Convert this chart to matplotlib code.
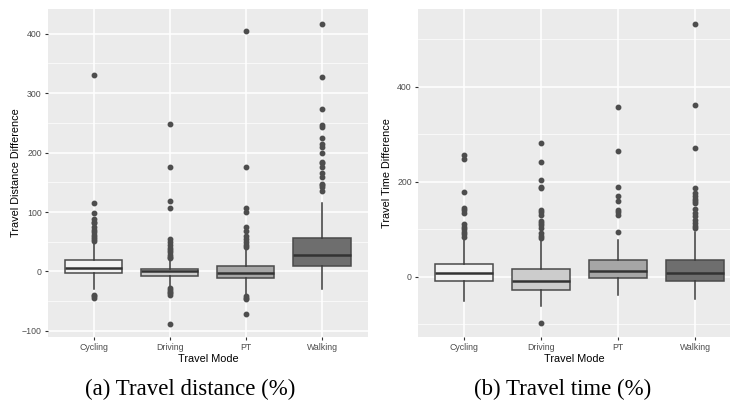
import numpy as np
import matplotlib.pyplot as plt
from matplotlib.ticker import MultipleLocator

plt.rcParams['font.family'] = ['Liberation Sans', 'DejaVu Sans']

modes = ['Cycling', 'Driving', 'PT', 'Walking']
fills = ['#f2f2f2', '#cccccc', '#a6a6a6', '#6e6e6e']

# travel distance difference (%): q1, median, q3, whisker low, whisker high
dist_q1 = [-3, -8, -11, 10]
dist_med = [6, 0.5, -2, 27]
dist_q3 = [19, 4.5, 9, 57]
dist_wlo = [-30, -26, -40, -30]
dist_whi = [50, 20, 40, 116]
dist_out = [
    [331, 115, 98, 88, 84, 81, 75, 70, 66, 62, 58, 55, 52, -40, -42, -44],
    [249, 176, 118, 106, 55, 50, 44, 40, 36, 32, 28, 24, 22, -28, -31, -34, -37, -40, -88],
    [404, 175, 106, 100, 75, 68, 60, 55, 50, 45, 42, -42, -44, -47, -71],
    [416, 327, 273, 247, 243, 224, 214, 210, 200, 185, 182, 176, 165, 159, 148, 145, 142, 135],
]

# travel time difference (%)
time_q1 = [-8, -27, -1.5, -8]
time_med = [8, -8, 13, 8]
time_q3 = [28, 17, 35, 35]
time_wlo = [-50, -62, -38, -47]
time_whi = [79, 79, 78, 94]
time_out = [
    [257, 248, 178, 145, 140, 135, 112, 105, 100, 95, 90, 85],
    [282, 241, 203, 189, 187, 141, 136, 131, 118, 113, 109, 102, 92, 87, 81, -97],
    [357, 265, 189, 171, 159, 141, 136, 131, 95],
    [532, 362, 272, 188, 177, 170, 164, 160, 155, 142, 135, 128, 120, 113, 108, 102],
]


def make_stats(q1, med, q3, wlo, whi, out):
    stats = []
    for i in range(len(modes)):
        stats.append({'q1': q1[i], 'med': med[i], 'q3': q3[i],
                      'whislo': wlo[i], 'whishi': whi[i], 'fliers': out[i], 'label': modes[i]})
    return stats


def draw_panel(ax, stats, ylabel, major, minor, ylim, xlim, label_x):
    ax.set_facecolor('#ebebeb')
    ax.set_axisbelow(True)
    ax.yaxis.set_major_locator(MultipleLocator(major))
    ax.yaxis.set_minor_locator(MultipleLocator(minor))
    ax.grid(which='major', color='white', linewidth=1.1)
    ax.grid(which='minor', axis='y', color='white', linewidth=0.5)
    res = ax.bxp(stats, positions=range(1, 5), widths=0.75, patch_artist=True, showcaps=False,
                 boxprops=dict(edgecolor='#4a4a4a', linewidth=1.1),
                 medianprops=dict(color='#333333', linewidth=1.8),
                 whiskerprops=dict(color='#3a3a3a', linewidth=1.1),
                 flierprops=dict(marker='o', markerfacecolor='#4d4d4d', markeredgecolor='#4d4d4d',
                                 markersize=3.2))
    for patch, c in zip(res['boxes'], fills):
        patch.set_facecolor(c)
    ax.set_xlim(*xlim)
    ax.set_ylim(*ylim)
    for s in ax.spines.values():
        s.set_visible(False)
    ax.tick_params(axis='both', which='major', length=2.5, color='#333333', labelcolor='#4d4d4d',
                   labelsize=6.3, pad=2)
    ax.tick_params(axis='y', which='minor', length=0)
    ax.set_xlabel('Travel Mode', fontsize=7.8, labelpad=1.5)
    ax.set_ylabel(ylabel, fontsize=7.8)
    ax.yaxis.set_label_coords(label_x, 0.5)


fig = plt.figure(figsize=(7.3, 4.2), dpi=100)
ax1 = fig.add_axes([0.0658, 0.198, 0.4378, 0.781])
ax2 = fig.add_axes([0.5726, 0.198, 0.4274, 0.781])

draw_panel(ax1, make_stats(dist_q1, dist_med, dist_q3, dist_wlo, dist_whi, dist_out),
           'Travel Distance Difference', 100, 50, (-110, 442), (0.4, 4.6), -0.086)
draw_panel(ax2, make_stats(time_q1, time_med, time_q3, time_wlo, time_whi, time_out),
           'Travel Time Difference', 200, 100, (-126, 564), (0.4, 4.455), -0.082)

fig.text(0.26, 0.06, '(a) Travel distance (%)', fontsize=16.5, family='Liberation Serif', ha='center')
fig.text(0.771, 0.06, '(b) Travel time (%)', fontsize=16.5, family='Liberation Serif', ha='center')

fig.savefig('out.png', dpi=100)
